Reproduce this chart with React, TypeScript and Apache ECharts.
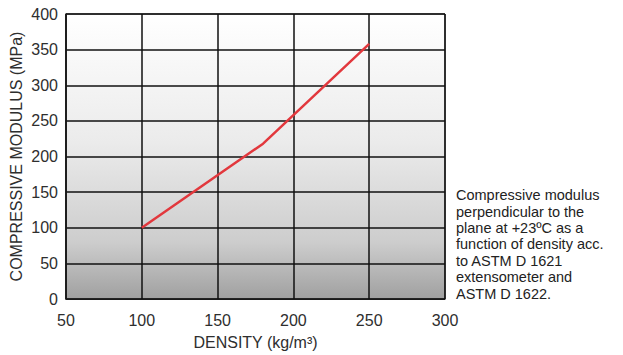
import React, { useEffect, useRef } from "react";
import * as echarts from "echarts";

const densityValues = [100, 180, 250];
const modulusValues = [100, 218, 358];
const xTicks = [50, 100, 150, 200, 250, 300];
const yTicks = [0, 50, 100, 150, 200, 250, 300, 350, 400];
const noteLines = [
  "Compressive modulus",
  "perpendicular to the",
  "plane at +23ºC as a",
  "function of density acc.",
  "to ASTM D 1621",
  "extensometer and",
  "ASTM D 1622.",
];

const FONT = "'Liberation Sans', Arial, Helvetica, sans-serif";
const TEXT = "#2e2e2e";

export default function App() {
  const ref = useRef<HTMLDivElement>(null);
  useEffect(() => {
    if (!ref.current) return;
    const chart = echarts.init(ref.current, undefined, { renderer: "svg" });
    const data = densityValues.map((d, i) => [d, modulusValues[i]]);
    chart.setOption({
      animation: false,
      grid: {
        left: 66,
        top: 14,
        right: 178,
        bottom: 56,
        containLabel: false,
        outerBoundsMode: "none",
        show: true,
        borderColor: "#1a1a1a",
        borderWidth: 1,
        backgroundColor: {
          type: "linear",
          x: 0,
          y: 0,
          x2: 0,
          y2: 1,
          colorStops: [
            { offset: 0, color: "#ffffff" },
            { offset: 0.45, color: "#ebebeb" },
            { offset: 0.8, color: "#cdcdcd" },
            { offset: 1, color: "#a0a0a0" },
          ],
        },
      },
      xAxis: {
        type: "value",
        min: xTicks[0],
        max: xTicks[xTicks.length - 1],
        interval: 50,
        name: "DENSITY (kg/m³)",
        nameLocation: "middle",
        nameGap: 35,
        nameTextStyle: { fontFamily: FONT, fontSize: 16, color: TEXT },
        axisLine: { show: true, lineStyle: { color: "#1a1a1a", width: 1 } },
        axisTick: { show: false },
        axisLabel: { fontFamily: FONT, fontSize: 16, color: TEXT, margin: 13 },
        splitLine: { show: true, lineStyle: { color: "#111", width: 1.5 } },
      },
      yAxis: {
        type: "value",
        min: yTicks[0],
        max: yTicks[yTicks.length - 1],
        interval: 50,
        name: "COMPRESSIVE MODULUS (MPa)",
        nameLocation: "middle",
        nameGap: 42,
        nameMoveOverlap: false,
        nameTextStyle: { fontFamily: FONT, fontSize: 16, color: TEXT },
        axisLine: { show: true, lineStyle: { color: "#1a1a1a", width: 1.5 } },
        axisTick: { show: false },
        axisLabel: { fontFamily: FONT, fontSize: 16, color: TEXT, margin: 8 },
        splitLine: { show: true, lineStyle: { color: "#111", width: 1.5 } },
      },
      series: [
        {
          type: "line",
          data,
          symbol: "none",
          lineStyle: { color: "#e2383d", width: 2.5 },
        },
      ],
      graphic: [
        {
          type: "text",
          left: 456,
          top: 187,
          style: {
            text: noteLines.join("\n"),
            fontFamily: FONT,
            fontSize: 14.5,
            lineHeight: 16.4,
            fill: "#222",
          },
        },
      ],
    });
    return () => chart.dispose();
  }, []);
  return <div ref={ref} style={{ width: 623, height: 355, position: "absolute", left: 0, top: 0 }} />;
}
